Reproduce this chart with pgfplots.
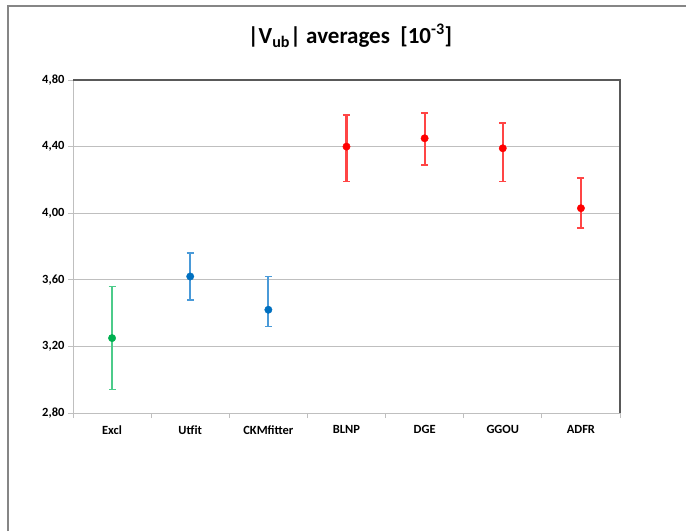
\documentclass[border=0pt]{standalone}
\usepackage{pgfplots}
\pgfplotsset{compat=1.18}
\usepackage{fontspec}
\setmainfont{Carlito}
\definecolor{mgreen}{HTML}{00B050}
\definecolor{egreen}{HTML}{4CCB8A}
\definecolor{mblue}{HTML}{0070C0}
\definecolor{eblue}{HTML}{4A9AD8}
\definecolor{mred}{HTML}{FF0000}
\definecolor{ered}{HTML}{FF4545}
\definecolor{gridgray}{HTML}{BFBFBF}
\definecolor{bordergray}{HTML}{595959}
\definecolor{framegray}{HTML}{868686}
\begin{document}
\begin{tikzpicture}
\path[use as bounding box] (0,0) rectangle (686pt,531pt);
\draw[framegray, line width=1.5pt] (8pt,0pt) -- (8pt,525pt) -- (686pt,525pt);
\node[anchor=base] at (350pt,487pt)
  {\fontsize{23}{27}\selectfont\bfseries |V\textsubscript{ub}| averages~~[10\textsuperscript{-3}]};
\begin{axis}[
    at={(73pt,118pt)}, anchor=south west,
    width=547pt, height=333pt, scale only axis,
    xmin=0.5, xmax=7.5, ymin=2.8, ymax=4.8,
    xtick={1,2,3,4,5,6,7},
    xticklabels={Excl,Utfit,CKMfitter,BLNP,DGE,GGOU,ADFR},
    minor xtick={0.5,1.5,2.5,3.5,4.5,5.5,6.5,7.5},
    major x tick style={draw=none},
    ytick={2.8,3.2,3.6,4.0,4.4,4.8},
    ymajorgrids,
    grid style={draw=gridgray, line width=0.8pt},
    axis x line*=bottom, axis y line*=left,
    axis line style={draw=gridgray, line width=0.8pt, -},
    tick align=outside,
    major tick length=5pt, minor tick length=5pt,
    tick style={draw=gridgray, line width=0.8pt},
    tick label style={font=\fontsize{12.5}{14}\selectfont\bfseries},
    yticklabel style={/pgf/number format/.cd, fixed, fixed zerofill, precision=2, use comma, assume math mode=true},
    xticklabel style={yshift=-4pt},
    clip=false,
]
\addplot[only marks, mark=*, mark size=3.7pt, color=mgreen,
  error bars/.cd, y dir=both, y explicit,
  error bar style={color=egreen, line width=2.2pt},
  error mark options={rotate=90, color=egreen, line width=1.6pt, mark size=3.5pt}]
coordinates {(1,3.25) += (0,0.31) -= (0,0.31)};
\addplot[only marks, mark=*, mark size=3.7pt, color=mblue,
  error bars/.cd, y dir=both, y explicit,
  error bar style={color=eblue, line width=2.2pt},
  error mark options={rotate=90, color=eblue, line width=1.6pt, mark size=3.5pt}]
coordinates {
  (2,3.62) += (0,0.14) -= (0,0.14)
  (3,3.42) += (0,0.20) -= (0,0.10)
};
\addplot[only marks, mark=*, mark size=3.7pt, color=mred,
  error bars/.cd, y dir=both, y explicit,
  error bar style={color=ered, line width=2.2pt},
  error mark options={rotate=90, color=ered, line width=1.6pt, mark size=3.5pt}]
coordinates {
  (4,4.40) += (0,0.19) -= (0,0.21)
  (5,4.45) += (0,0.15) -= (0,0.16)
  (6,4.39) += (0,0.15) -= (0,0.20)
  (7,4.03) += (0,0.18) -= (0,0.12)
};
\draw[bordergray, line width=1.2pt] (rel axis cs:0,1) -- (rel axis cs:1,1) -- (rel axis cs:1,0);
\end{axis}
\end{tikzpicture}
\end{document}
